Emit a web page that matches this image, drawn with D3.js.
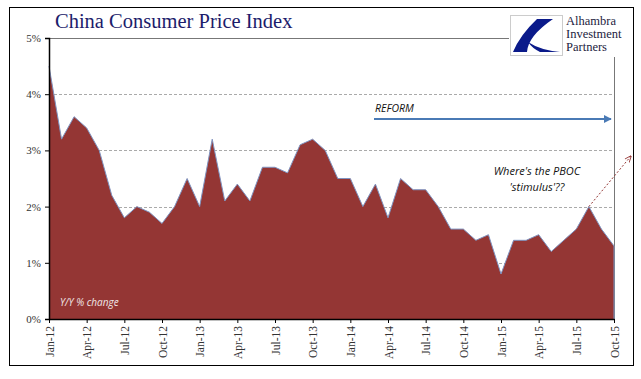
<!DOCTYPE html>
<html><head><meta charset="utf-8">
<script src="https://cdn.jsdelivr.net/npm/d3@7/dist/d3.min.js"></script>
<style>body{margin:0;background:#fff}svg{display:block}</style>
</head><body>
<script>
const months = ["Jan","Feb","Mar","Apr","May","Jun","Jul","Aug","Sep","Oct","Nov","Dec"];
const startYear = 2012;
const cpi = [4.5,3.2,3.6,3.4,3.0,2.2,1.8,2.0,1.9,1.7,2.0,2.5,
             2.0,3.2,2.1,2.4,2.1,2.7,2.7,2.6,3.1,3.2,3.0,2.5,
             2.5,2.0,2.4,1.8,2.5,2.3,2.3,2.0,1.6,1.6,1.4,1.5,
             0.8,1.4,1.4,1.5,1.2,1.4,1.6,2.0,1.6,1.3];
const yTicks = [0,1,2,3,4,5];
const labels = cpi.map((d,i)=> months[i%12] + "-" + String((startYear + Math.floor(i/12))%100));

const W=641,H=379;
const svg=d3.select("body").append("svg").attr("width",W).attr("height",H);
const x=d3.scaleLinear().domain([0,cpi.length-1]).range([49,614]);
const y=d3.scaleLinear().domain([0,5]).range([319,38]);

svg.append("rect").attr("x",9.5).attr("y",7.5).attr("width",624).attr("height",358).attr("fill","none").attr("stroke","#000");

// gridlines
svg.append("g").selectAll("line").data(yTicks.filter(d=>d>0&&d<5)).join("line")
  .attr("x1",49).attr("x2",614).attr("y1",d=>Math.round(y(d))+0.5).attr("y2",d=>Math.round(y(d))+0.5)
  .attr("stroke","#aaa").attr("stroke-dasharray","3,2").attr("stroke-width",1);
// top line
svg.append("line").attr("x1",49).attr("x2",509).attr("y1",Math.round(y(5))+0.5).attr("y2",Math.round(y(5))+0.5).attr("stroke","#777");
svg.append("line").attr("x1",614.5).attr("x2",614.5).attr("y1",57).attr("y2",319).attr("stroke","#777");

// area
const area=d3.area().x((d,i)=>x(i)).y0(y(0)).y1(d=>y(d));
svg.append("path").datum(cpi).attr("d",area).attr("fill","#943634");
svg.append("path").datum(cpi).attr("d",d3.line().x((d,i)=>x(i)).y(d=>y(d))).attr("fill","none").attr("stroke","#7f93c0").attr("stroke-width",1);
svg.append("line").attr("x1",x(cpi.length-1)).attr("x2",x(cpi.length-1)).attr("y1",y(cpi[cpi.length-1])).attr("y2",y(0)).attr("stroke","#7f93c0");

// axes
const yAxis=d3.axisLeft(y).tickValues(yTicks).tickFormat(d=>d+"%").tickSize(4);
const gy=svg.append("g").attr("transform","translate(49,0)").call(yAxis);
gy.select(".domain").attr("stroke","#000").attr("stroke-width",1.5);
gy.selectAll("text").attr("font-family","Liberation Serif").attr("font-size",11).attr("fill","#333").attr("dx",-1);

const qIdx=d3.range(0,cpi.length,3);
const xAxis=d3.axisBottom(x).tickValues(qIdx).tickFormat(i=>labels[i]).tickSize(4).tickSizeOuter(0);
const gx=svg.append("g").attr("transform","translate(0,319)").call(xAxis);
gx.select(".domain").attr("stroke","#000").attr("stroke-width",1.5);
gx.selectAll("text").attr("font-family","Liberation Serif").attr("font-size",11.5).attr("fill","#333")
  .attr("transform","rotate(-90)").attr("text-anchor","end").attr("x",-7).attr("y",0).attr("dy","0.35em");

// title
svg.append("text").attr("x",55).attr("y",28).text("China Consumer Price Index")
  .attr("font-family","Liberation Serif").attr("font-size",20.5).attr("fill","#1c1c6b");

// logo
const lg=svg.append("g");
lg.append("rect").attr("x",510.5).attr("y",15.5).attr("width",52).attr("height",40).attr("fill","#fff").attr("stroke","#ccc");
lg.append("path").attr("d","M553,19 L537,19 Q520,35 513,52 L527,52 Q528,36 553,19 Z").attr("fill","#0a1a8a");
lg.append("path").attr("d","M528,42 Q540,50 560,52 L540,52 Q532,48 528,42 Z").attr("fill","#0a1a8a");
["Alhambra","Investment","Partners"].forEach((t,i)=>{
  lg.append("text").attr("x",566).attr("y",25+i*13).text(t).attr("font-family","Liberation Serif").attr("font-size",12.5).attr("fill","#1c1c40");
});

// reform arrow
svg.append("defs").append("marker").attr("id","ah").attr("viewBox","0 0 10 10").attr("refX",9).attr("refY",5)
  .attr("markerWidth",4).attr("markerHeight",4).attr("orient","auto")
  .append("path").attr("d","M0,0 L10,5 L0,10 Z").attr("fill","#4a7ab5");
svg.append("line").attr("x1",374).attr("x2",611).attr("y1",119).attr("y2",119).attr("stroke","#4a7ab5").attr("stroke-width",2).attr("marker-end","url(#ah)");
svg.append("text").attr("x",375).attr("y",112).text("REFORM").attr("font-family","Open Sans").attr("font-style","italic").attr("font-size",10.5).attr("fill","#111");

// pboc
svg.append("defs").append("marker").attr("id","ah2").attr("viewBox","0 0 10 10").attr("refX",9).attr("refY",5)
  .attr("markerWidth",7).attr("markerHeight",7).attr("orient","auto")
  .append("path").attr("d","M0,1 L10,5 L0,9").attr("fill","none").attr("stroke","#943634").attr("stroke-width",1.2);
svg.append("line").attr("x1",x(43)).attr("y1",y(2)).attr("x2",631).attr("y2",156).attr("stroke","#943634").attr("stroke-dasharray","2,2").attr("marker-end","url(#ah2)");
svg.append("text").attr("x",537).attr("y",175).attr("text-anchor","middle").text("Where's the PBOC").attr("font-family","Open Sans").attr("font-style","italic").attr("font-size",11).attr("fill","#111");
svg.append("text").attr("x",537).attr("y",191).attr("text-anchor","middle").text("'stimulus'??").attr("font-family","Open Sans").attr("font-style","italic").attr("font-size",11).attr("fill","#111");

svg.append("text").attr("x",60).attr("y",306).text("Y/Y % change").attr("font-family","Open Sans").attr("font-style","italic").attr("font-size",10).attr("fill","#f0e6e6");
</script>
</body></html>
